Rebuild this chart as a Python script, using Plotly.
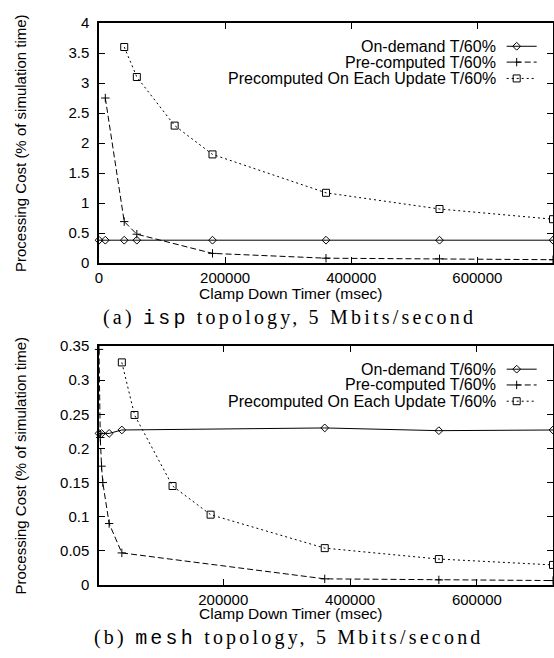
import plotly.graph_objects as go

# ---------------- data ----------------
# (a) isp topology
isp_ondemand_x = [0, 10000, 40000, 60000, 180000, 360000, 540000, 720000]
isp_ondemand_y = [0.38, 0.38, 0.38, 0.38, 0.38, 0.38, 0.38, 0.38]
isp_precomp_x = [10000, 40000, 60000, 180000, 360000, 540000, 720000]
isp_precomp_y = [2.75, 0.69, 0.48, 0.16, 0.08, 0.07, 0.055]
isp_update_x = [40000, 60000, 120000, 180000, 360000, 540000, 720000]
isp_update_y = [3.6, 3.1, 2.29, 1.81, 1.17, 0.9, 0.73]

# (b) mesh topology
mesh_ondemand_x = [4000, 8000, 20000, 40000, 360000, 540000, 720000]
mesh_ondemand_y = [0.222, 0.222, 0.222, 0.227, 0.230, 0.226, 0.227]
mesh_precomp_x = [4000, 6000, 8000, 10000, 20000, 40000, 360000, 540000, 720000]
mesh_precomp_y = [0.345, 0.216, 0.174, 0.15, 0.09, 0.047, 0.009, 0.0075, 0.0065]
mesh_update_x = [40000, 60000, 120000, 180000, 360000, 540000, 720000]
mesh_update_y = [0.326, 0.249, 0.145, 0.103, 0.054, 0.038, 0.0294]

series_names = ["On-demand T/60%", "Pre-computed T/60%", "Precomputed On Each Update T/60%"]
x_tick_vals = [0, 200000, 400000, 600000]
x_title = "Clamp Down Timer (msec)"
y_title = "Processing Cost (% of simulation time)"
caption_a = ("(a) ", "isp", " topology, 5 Mbits/second")
caption_b = ("(b) ", "mesh", " topology, 5 Mbits/second")

# ---------------- styles ----------------
FONT = "Liberation Sans, Arial, sans-serif"
styles = [
    dict(dash="solid", symbol="diamond-open", size=6),
    dict(dash="6px,3px", symbol="cross-thin-open", size=6),
    dict(dash="2px,3px", symbol="square-open", size=7),
]

fig = go.Figure()

def add_series(xs, ys, st, xa, ya):
    fig.add_trace(go.Scatter(
        x=xs, y=ys, mode="lines+markers", xaxis=xa, yaxis=ya,
        line=dict(color="black", width=1, dash=st["dash"]),
        marker=dict(symbol=st["symbol"], size=st["size"], color="black",
                    line=dict(color="black", width=1)),
        cliponaxis=False, showlegend=False, hoverinfo="x+y"))

add_series(isp_ondemand_x, isp_ondemand_y, styles[0], "x", "y")
add_series(isp_precomp_x, isp_precomp_y, styles[1], "x", "y")
add_series(isp_update_x, isp_update_y, styles[2], "x", "y")
add_series(mesh_ondemand_x, mesh_ondemand_y, styles[0], "x2", "y2")
add_series(mesh_precomp_x, mesh_precomp_y, styles[1], "x2", "y2")
add_series(mesh_update_x, mesh_update_y, styles[2], "x2", "y2")

# ---------------- manual legend keys (gnuplot style: text left, key right) --------
leg_rows = [0.903, 0.837, 0.769]
leg_line = [0.898, 0.964]
leg_mark = 0.920
leg_text_x = 0.879
annotations = []
for xa, ya, dom in (("x3", "y3", "y domain"), ("x4", "y4", "y2 domain")):
    xdom = "x domain" if dom == "y domain" else "x2 domain"
    for name, st, ry in zip(series_names, styles, leg_rows):
        fig.add_trace(go.Scatter(
            x=leg_line, y=[ry, ry], mode="lines", xaxis=xa, yaxis=ya,
            line=dict(color="black", width=1, dash=st["dash"]),
            showlegend=False, hoverinfo="skip"))
        fig.add_trace(go.Scatter(
            x=[leg_mark], y=[ry], mode="markers", xaxis=xa, yaxis=ya,
            marker=dict(symbol=st["symbol"], size=st["size"], color="black",
                        line=dict(color="black", width=1)),
            showlegend=False, hoverinfo="skip"))
        annotations.append(dict(
            text=name, xref=xdom, yref=dom, x=leg_text_x, y=ry,
            xanchor="right", yanchor="middle", showarrow=False,
            font=dict(family=FONT, size=16, color="black")))

# ---------------- geometry ----------------
W, H = 554, 658
ML, MR, MT, MB = 99, 1, 23, 73
PH = H - MT - MB
def py(p):  # pixel row -> paper y
    return (H - MB - p) / PH
def px(p):
    return (p - ML) / (W - ML - MR)

top_dom = [py(263), 1.0]
bot_dom = [0.0, py(346)]

axis_common = dict(
    showline=True, linecolor="black", linewidth=1.5, mirror="ticks",
    ticks="inside", ticklen=6, tickwidth=1, tickcolor="black",
    showgrid=False, zeroline=False,
    tickfont=dict(family=FONT, size=15, color="black"))

fig.update_layout(
    width=W, height=H,
    margin=dict(l=ML, r=MR, t=MT, b=MB, autoexpand=False),
    paper_bgcolor="white", plot_bgcolor="rgba(0,0,0,0)",
    showlegend=False,
    xaxis=dict(domain=[0, 1], anchor="y", range=[0, 720000],
               tickvals=x_tick_vals, tickformat="d", **axis_common),
    yaxis=dict(domain=top_dom, anchor="x", range=[0, 4], dtick=0.5, tick0=0,
               ticklabelstandoff=5, **axis_common),
    xaxis2=dict(domain=[0, 1], anchor="y2", range=[4000, 720000],
                tickvals=x_tick_vals, tickformat="d", **axis_common),
    yaxis2=dict(domain=bot_dom, anchor="x2", range=[0, 0.35], dtick=0.05, tick0=0,
                ticklabelstandoff=5, **axis_common),
    xaxis3=dict(domain=[0, 1], anchor="y3", range=[0, 1], visible=False,
                fixedrange=True, overlaying="x"),
    yaxis3=dict(domain=top_dom, anchor="x3", range=[0, 1], visible=False,
                fixedrange=True, overlaying="y"),
    xaxis4=dict(domain=[0, 1], anchor="y4", range=[0, 1], visible=False,
                fixedrange=True, overlaying="x2"),
    yaxis4=dict(domain=bot_dom, anchor="x4", range=[0, 1], visible=False,
                fixedrange=True, overlaying="y2"),
)

# axis titles and captions
for yd, xlab_p, cap_p, cap in (("y domain", 294, 318, caption_a),
                               ("y2 domain", 614, 638, caption_b)):
    annotations.append(dict(
        text=y_title, xref="paper", yref=yd, x=px(20), y=0.5, textangle=-90,
        xanchor="center", yanchor="middle", showarrow=False,
        font=dict(family=FONT, size=15, color="black")))
    annotations.append(dict(
        text=x_title, xref="paper", yref="paper", x=px(290), y=py(xlab_p),
        xanchor="center", yanchor="middle", showarrow=False,
        font=dict(family=FONT, size=15.5, color="black")))
    cap_text = ('<span style="letter-spacing:3.2px">' + cap[0] +
                '<span style="font-family:Liberation Mono, monospace">' + cap[1] + '</span>' +
                cap[2] + '</span>')
    annotations.append(dict(
        text=cap_text, xref="paper", yref="paper", x=px(289), y=py(cap_p),
        xanchor="center", yanchor="middle", showarrow=False,
        font=dict(family="Liberation Serif, serif", size=20, color="black")))

fig.update_layout(annotations=annotations)

fig.write_html(
    "out.html",
    config={"displayModeBar": False},
    post_script="document.body.style.margin='0';document.body.style.overflow='hidden';",
)
